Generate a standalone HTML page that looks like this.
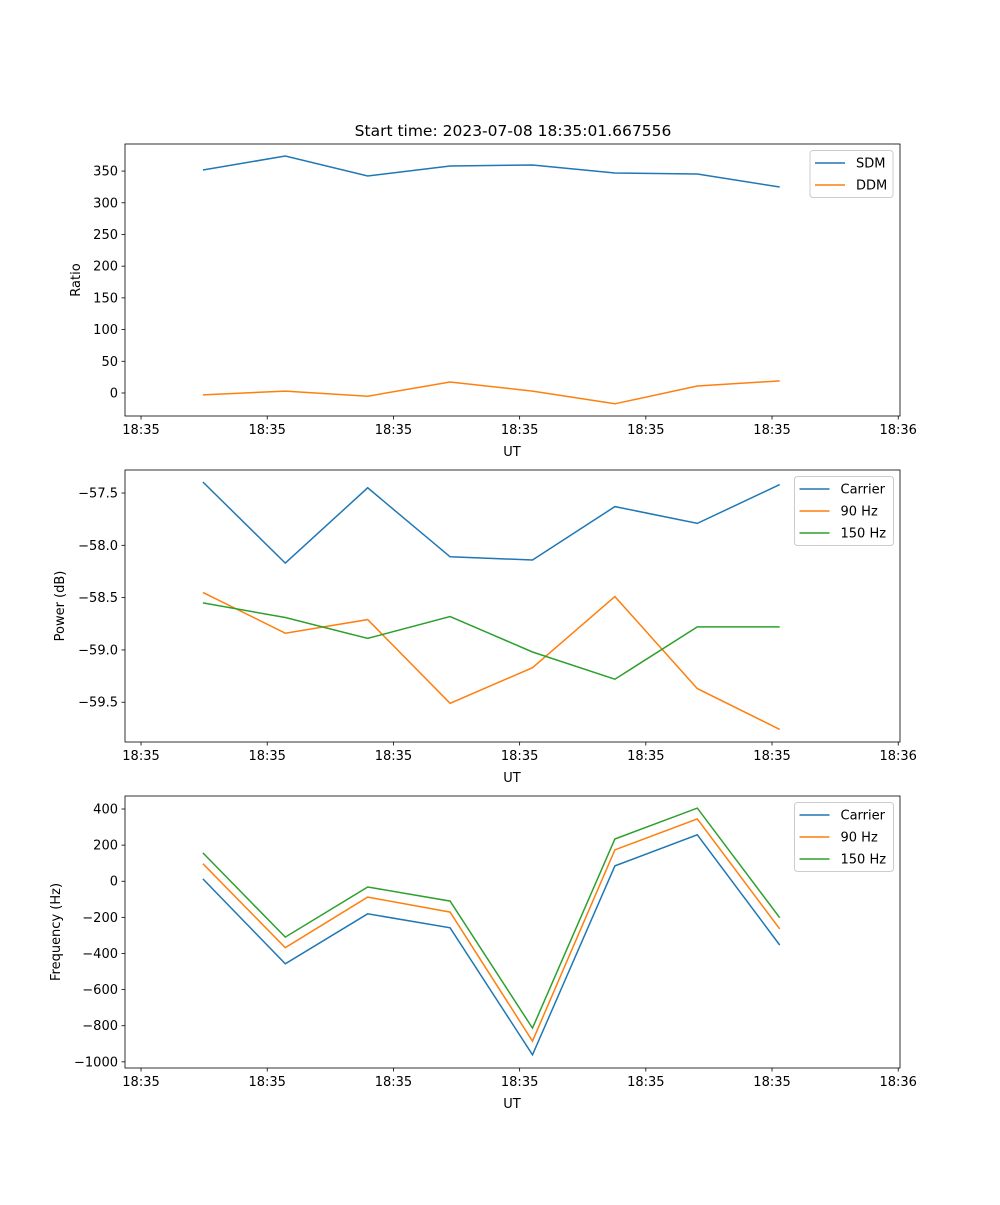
<!DOCTYPE html>
<html><head><meta charset="utf-8"><style>
body{margin:0;background:#fff}
svg text{font-family:"DejaVu Sans","Liberation Sans",sans-serif;font-size:13px;fill:#000}
</style></head><body>
<svg id="fig" width="1000" height="1200" xmlns="http://www.w3.org/2000/svg">
<text x="513" y="136" text-anchor="middle" style="font-size:15.5px">Start time: 2023-07-08 18:35:01.667556</text>
</svg>
<script>
const times = [4.9, 11.43, 17.96, 24.49, 31.02, 37.55, 44.08, 50.61];
const tickSecs = [0, 10, 20, 30, 40, 50, 60];
const tickLabels = ["18:35","18:35","18:35","18:35","18:35","18:35","18:36"];
const sdm = [351.7, 373.8, 342.3, 358, 359.6, 347, 345.4, 324.9];
const ddm = [-3, 3, -5, 17.4, 3, -17, 11, 19];
const pwrCarrier = [-57.395, -58.17, -57.45, -58.11, -58.14, -57.63, -57.79, -57.42];
const pwr90 = [-58.45, -58.84, -58.71, -59.51, -59.17, -58.49, -59.37, -59.76];
const pwr150 = [-58.55, -58.69, -58.89, -58.68, -59.02, -59.28, -58.78, -58.78];
const frqCarrier = [13, -457, -180, -258, -961, 85, 257, -353];
const frq90 = [97, -368, -88, -171, -885, 174, 345, -264];
const frq150 = [157, -309, -32, -110, -813, 234, 405, -202];
const ratioTicks = [0,50,100,150,200,250,300,350];
const powerTicks = [-57.5,-58.0,-58.5,-59.0,-59.5];
const freqTicks = [400,200,0,-200,-400,-600,-800,-1000];

const NS="http://www.w3.org/2000/svg", svg=document.getElementById('fig');
function mk(tag,attrs,parent){const e=document.createElementNS(NS,tag);for(const k in attrs)e.setAttribute(k,attrs[k]);(parent||svg).appendChild(e);return e;}
const L=125,R=900;
const xs=t=>L+(t-(-1.27))/(60.14-(-1.27))*(R-L);
const C=['#1f77b4','#ff7f0e','#2ca02c'];

function panel(name,top,bot,ymin,ymax,yt,fmt,ylabel,series,names,legX,legW){
  const g=mk('g',{});
  
  
  const ys=v=>bot-(v-ymin)/(ymax-ymin)*(bot-top);
  series.forEach((s,i)=>{
    const p=mk('polyline',{points:s.map((v,j)=>xs(times[j]).toFixed(1)+','+ys(v).toFixed(1)).join(' '),fill:'none',stroke:C[i],'stroke-width':1.5},g);
    
    
  });
  const fr=mk('rect',{x:L,y:top,width:R-L,height:bot-top,fill:'none',stroke:'#000','stroke-width':0.8},g);
  
  
  tickSecs.forEach((s,i)=>{const x=xs(s);mk('line',{x1:x,x2:x,y1:bot,y2:bot+3.5,stroke:'#000','stroke-width':0.8},g);
    const t=mk('text',{x:x,y:bot+18,'text-anchor':'middle'},g);t.textContent=tickLabels[i];
    
    });
  yt.forEach(v=>{const y=ys(v);mk('line',{x1:L-3.5,x2:L,y1:y,y2:y,stroke:'#000','stroke-width':0.8},g);
    const t=mk('text',{x:L-7,y:y+4.5,'text-anchor':'end'},g);t.textContent=fmt(v);
    
    });
  const xl=mk('text',{x:512,y:bot+40,'text-anchor':'middle'},g);xl.textContent='UT';
  
  
  const yl=mk('text',{x:0,y:0,'text-anchor':'middle',transform:`translate(${legX.yl},${(top+bot)/2}) rotate(-90)`},g);yl.textContent=ylabel;
  
  
  const lg=mk('g',{},g);
  
  
  mk('rect',{x:legX.x,y:top+6.5,width:legW,height:names.length*22+3,rx:3,fill:'#fff',stroke:'#ccc','stroke-width':1},lg);
  names.forEach((n,i)=>{const y=top+19+i*22;
    mk('line',{x1:legX.x+5,x2:legX.x+35,y1:y,y2:y,stroke:C[i],'stroke-width':1.5},lg);
    const t=mk('text',{x:legX.x+46,y:y+4.5},lg);t.textContent=n;
    
    });
}
const neg=v=>String(v).replace('-','\u2212');
panel('ratio-panel',144,416,-36.3,392.7,ratioTicks,v=>neg(v),'Ratio',[sdm,ddm],['SDM','DDM'],{x:810,yl:80},83);
panel('power-panel',470,742,-59.88,-57.28,powerTicks,v=>neg(v.toFixed(1)),'Power (dB)',[pwrCarrier,pwr90,pwr150],['Carrier','90 Hz','150 Hz'],{x:794.5,yl:64},99);
panel('frequency-panel',796,1068,-1034,472,freqTicks,v=>neg(v),'Frequency (Hz)',[frqCarrier,frq90,frq150],['Carrier','90 Hz','150 Hz'],{x:794.5,yl:60},99);
</script>
</body></html>
